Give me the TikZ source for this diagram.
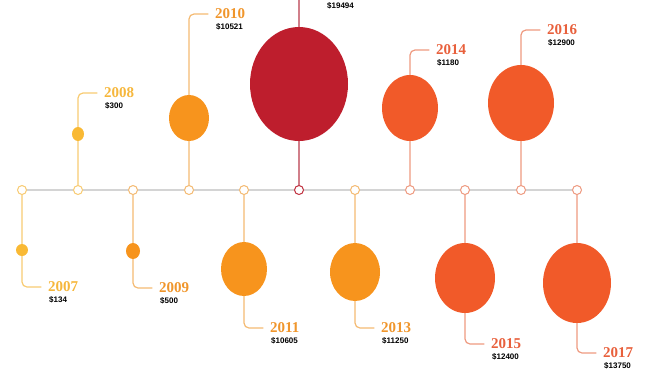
\documentclass[tikz,border=0pt]{standalone}
\usepackage{fontspec}
\setmainfont{Liberation Serif}
\setsansfont{Liberation Sans}
\usetikzlibrary{shapes.geometric}

\definecolor{yelF}{HTML}{F9B934}
\definecolor{yelL}{HTML}{F8CB72}
\definecolor{yelT}{HTML}{F6B73C}
\definecolor{orgF}{HTML}{F7941D}
\definecolor{orgL}{HTML}{F4BA72}
\definecolor{orgT}{HTML}{F0962C}
\definecolor{redF}{HTML}{BE1E2D}
\definecolor{redL}{HTML}{D17F8A}
\definecolor{redT}{HTML}{C0303F}
\definecolor{verF}{HTML}{F15A29}
\definecolor{verL}{HTML}{EE9A80}
\definecolor{verT}{HTML}{E8603C}
\definecolor{axisgray}{HTML}{D4D4D4}

\begin{document}
\begin{tikzpicture}[x = 1pt, y = -1pt, line cap = round,
	axis/.style = {axisgray, line width = 2pt},
	pinline/.style = {line width = 1.2pt, rounded corners = 5pt},
	bubble/.style = {ellipse, inner sep = 0pt},
	yearpin/.style = {circle, fill = white, line width = 1pt, minimum size = 9pt, inner sep = 0pt},
	yeartext/.style = {font = \bfseries\fontsize{15}{15}\selectfont, anchor = west, inner sep = 0pt},
	amount/.style = {font = \sffamily\bfseries\fontsize{8}{8}\selectfont, anchor = west, inner sep = 0pt}]

	\useasboundingbox (0, 0) rectangle (650, 381);

	% stops on the time axis
	\foreach \x/\yr in {22/2007, 78/2008, 133/2009, 189/2010, 244/2011, 299/2012,
		355/2013, 410/2014, 465/2015, 521/2016, 577/2017}
		\coordinate (p\yr) at (\x, 190);

	\draw [axis] (p2007) -- (p2017);

	% one bubble per year
	\foreach \x/\by/\dw/\dh/\ly/\yr/\amt/\grp in {
		22/250/12/12/287/2007/134/yel,
		78/134/12/14/93/2008/300/yel,
		133/251/14/16/288/2009/500/org,
		189/118/40/46/14/2010/10521/org,
		244/269/46/54/328/2011/10605/org,
		355/272/50/58/328/2013/11250/org,
		410/108/56/66/50/2014/1180/ver,
		465/278/60/70/344/2015/12400/ver,
		521/103/66/76/30/2016/12900/ver,
		577/283/68/80/353/2017/13750/ver} {

		\coordinate (c\yr) at (\x, \ly);
		\coordinate (e\yr) at (\x + 19, \ly);
		\draw [pinline, \grp L] (p\yr) -- (c\yr) -- (e\yr);

		\node [bubble, fill = \grp F, minimum width = \dw pt, minimum height = \dh pt] (b\yr) at (\x, \by) {};
		\node [yeartext, text = \grp T] (y\yr) at (\x + 26, \ly) {\yr};
		\node [amount] (a\yr) at (\x + 27, \ly + 13) {\$\amt};

		\node [yearpin, draw = \grp L] (m\yr) at (p\yr) {};
	}

	% the largest one runs off the top
	\coordinate (c2012) at (299, 0);
	\draw [pinline, redL] (p2012) -- (c2012);
	\node [bubble, fill = redF, minimum width = 98pt, minimum height = 114pt] (b2012) at (299, 84) {};
	\node [amount] (a2012) at (327, 6) {\$19494};
	\node [yearpin, draw = redT] (m2012) at (p2012) {};

\end{tikzpicture}
\end{document}
